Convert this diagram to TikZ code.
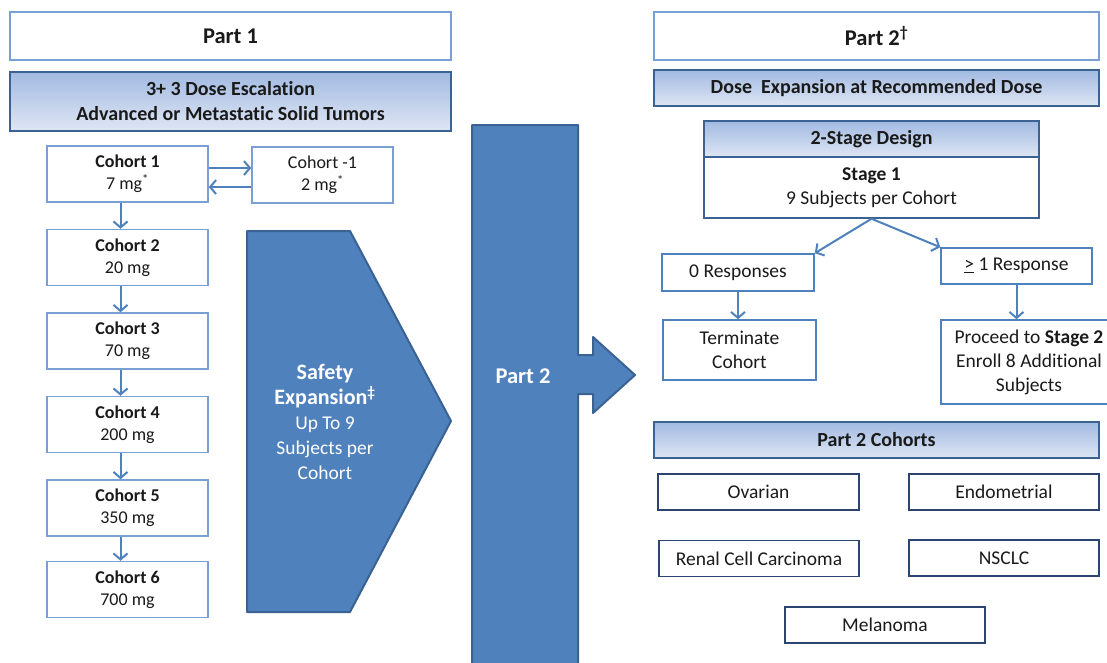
\documentclass[tikz,border=0pt]{standalone}
\usepackage{fontspec}
\setmainfont{Carlito}[Ligatures=NoCommon]
\usetikzlibrary{positioning,arrows.meta}

\definecolor{lineblue}{HTML}{4F81BD}
\definecolor{boxblue}{HTML}{7A9FD3}
\definecolor{darkblue}{HTML}{3A6293}
\definecolor{navyblue}{HTML}{2B4570}
\definecolor{gradtop}{HTML}{A2BAE1}
\definecolor{gradbot}{HTML}{DEE6F4}
\definecolor{txt}{HTML}{1A1A1A}

\begin{document}
\begin{tikzpicture}[x=1pt,y=-1pt,
	every node/.style={font=\fontsize{19.5}{24}\selectfont, text=txt, align=center, inner sep=0pt},
	partbox/.style={draw=boxblue, line width=1.5pt, fill=white, minimum height=48pt, font=\fontsize{22.5}{26}\selectfont\bfseries},
	headbox/.style={draw=darkblue, line width=1.5pt, top color=gradtop, bottom color=gradbot, minimum height=36pt, font=\fontsize{20}{25}\selectfont\bfseries},
	cohort/.style={draw=boxblue, line width=1.5pt, fill=white, minimum width=161pt, minimum height=56pt, font=\fontsize{18}{22}\selectfont},
	result/.style={draw=lineblue, line width=1.5pt, fill=white},
	tumor/.style={draw=navyblue, line width=1.5pt, fill=white, minimum height=36pt},
	bigshape/.style={fill=lineblue, draw=darkblue, line width=2pt, line join=round},
	flow/.style={draw=lineblue, line width=2pt, -{Straight Barb[length=6pt,width=14pt]}},
	node distance=26pt]

	\fill[white] (0,0) rectangle (1107,662);
	\useasboundingbox (0,0) rectangle (1107,662);

	% Part 1: dose escalation
	\node[partbox, minimum width=441pt] (part1) at (230.5,36) {Part 1};
	\node[headbox, minimum width=441pt, minimum height=59pt] (escal) at (230.5,101.5) {3+ 3 Dose Escalation\\Advanced or Metastatic Solid Tumors};

	\node[cohort] (c1) at (127.5,174) {\textbf{Cohort 1}\\7 mg\textsuperscript{*}};
	\node[cohort, minimum width=141pt] (cm1) at (322.5,175) {Cohort -1\\2 mg\textsuperscript{*}};
	\node[cohort, below=of c1] (c2) {\textbf{Cohort 2}\\20 mg};
	\node[cohort, below=of c2] (c3) {\textbf{Cohort 3}\\70 mg};
	\node[cohort, below=of c3] (c4) {\textbf{Cohort 4}\\200 mg};
	\node[cohort, below=of c4] (c5) {\textbf{Cohort 5}\\350 mg};
	\node[cohort, below=24pt of c5] (c6) {\textbf{Cohort 6}\\700 mg};

	\draw[flow] ([yshift=6pt]c1.east) -- ([yshift=6pt]c1.east -| cm1.west);
	\draw[flow] ([yshift=-12pt]cm1.west) -- ([yshift=-12pt]cm1.west -| c1.east);
	\draw[flow] ([xshift=-7pt]c1.south) -- ([xshift=-7pt]c2.north);
	\draw[flow] ([xshift=-7pt]c2.south) -- ([xshift=-7pt]c3.north);
	\draw[flow] ([xshift=-7pt]c3.south) -- ([xshift=-7pt]c4.north);
	\draw[flow] ([xshift=-7pt]c4.south) -- ([xshift=-7pt]c5.north);
	\draw[flow] ([xshift=-7pt]c5.south) -- ([xshift=-7pt]c6.north);

	% safety expansion and the part 2 arrow
	\draw[bigshape] (247,231) -- (350,231) -- (451,421) -- (350,612) -- (247,612) -- cycle;
	\node[text=white, font=\fontsize{19.5}{25}\selectfont] (safety) at (325,422)
		{{\bfseries\fontsize{22}{25}\selectfont Safety}\\{\bfseries\fontsize{22}{25}\selectfont Expansion\textsuperscript{\textdaggerdbl}}\\Up To 9\\Subjects per\\Cohort};

	\draw[bigshape] (472,125) -- (578,125) -- (578,355) -- (593,355) -- (593,337) -- (635,375)
		-- (593,413) -- (593,394) -- (578,394) -- (578,672) -- (472,672) -- cycle;
	\node[text=white, font=\fontsize{22.5}{26}\selectfont\bfseries] (part2col) at (523,376) {Part 2};

	% Part 2: dose expansion
	\node[partbox, minimum width=445pt] (part2) at (876.5,36) {Part 2\textsuperscript{\textdagger}};
	\node[headbox, minimum width=445pt] (doseexp) at (876.5,88) {Dose\ \ Expansion at Recommended Dose};
	\node[headbox, minimum width=335pt] (design) at (871.5,139) {2-Stage Design};
	\node[draw=darkblue, line width=1.5pt, fill=white, minimum width=335pt, minimum height=61pt] (stage1) at (871.5,187.5) {\textbf{Stage 1}\\9 Subjects per Cohort};

	\node[result, minimum width=152pt, minimum height=37pt] (zero) at (738,272.5) {0 Responses};
	\node[result, minimum width=151pt, minimum height=36pt] (one) at (1016.5,266) {\underline{>} 1 Response};
	\node[result, minimum width=153pt, minimum height=60pt] (term) at (739.5,350) {Terminate\\Cohort};
	\node[result, minimum width=176pt, minimum height=84pt] (proceed) at (1029,362) {Proceed to \textbf{Stage 2}\\Enroll 8 Additional\\Subjects};

	\draw[flow] (stage1.south) -- (zero.north east);
	\draw[flow] (stage1.south) -- (one.north west);
	\draw[flow] (zero.south) -- (zero.south |- term.north);
	\draw[flow] (one.south) -- (one.south |- proceed.north);

	% Part 2 cohorts
	\node[headbox, minimum width=445pt] (cohorts) at (876.5,440) {Part 2 Cohorts};
	\node[tumor, minimum width=201pt] (ovarian) at (758.5,492) {Ovarian};
	\node[tumor, minimum width=190pt] (endo) at (1004,492) {Endometrial};
	\node[tumor, minimum width=200pt] (renal) at (759,558.5) {Renal Cell Carcinoma};
	\node[tumor, minimum width=190pt] (nsclc) at (1004,558) {NSCLC};
	\node[tumor, minimum width=200pt] (melanoma) at (885,625) {Melanoma};

\end{tikzpicture}
\end{document}
